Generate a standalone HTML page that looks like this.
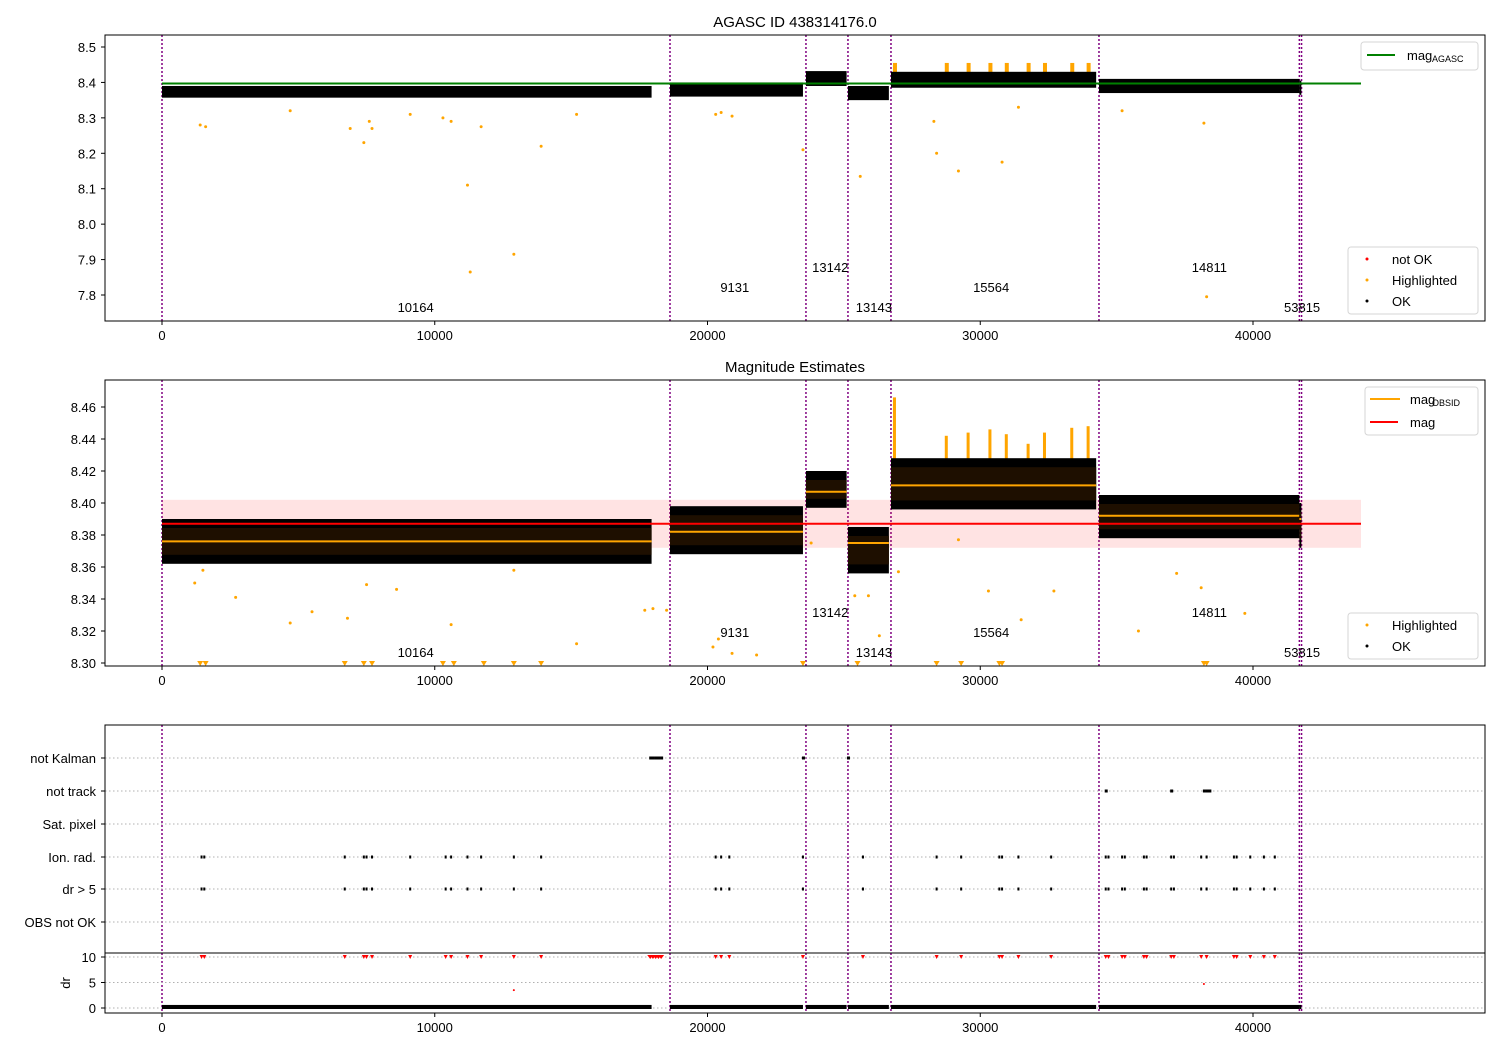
<!DOCTYPE html>
<html><head><meta charset="utf-8"><style>
body{margin:0;background:#fff;}
svg{display:block;font-family:"Liberation Sans","DejaVu Sans",sans-serif;}
</style></head><body>
<svg id="c" width="1500" height="1050" xmlns="http://www.w3.org/2000/svg"></svg>
<script>
// ---- data ----
const obsStarts = [0, 18625, 23610, 25150, 26727, 34353, 41700];
const obsEnds   = [17950, 23500, 25100, 26650, 34250, 41700, 41760];
const obsIds    = ["10164","9131","13142","13143","15564","14811","53815"];
const obsLabelT = [9300, 21000, 24500, 26100, 30400, 38400, 41800];
const vlines    = [0, 18625, 23610, 25150, 26727, 34353, 41700, 41780];
// panel 1 band (OK points) low/high
const p1Low  = [8.357, 8.36, 8.39, 8.35, 8.385, 8.37, 8.365];
const p1High = [8.39, 8.40, 8.432, 8.39, 8.43, 8.41, 8.405];
const agascMag = 8.397;
// panel 1 highlighted outliers
const p1HT = [1400,1600,4700,6900,7400,7600,7700,9100,10300,10600,11200,11300,11700,12900,13900,15200,20300,20500,20900,23500,25600,28300,28400,29200,30800,31400,35200,38200,38300];
const p1HV = [8.28,8.275,8.32,8.27,8.23,8.29,8.27,8.31,8.3,8.29,8.11,7.865,8.275,7.915,8.22,8.31,8.31,8.315,8.305,8.21,8.135,8.29,8.2,8.15,8.175,8.33,8.32,8.285,7.795];
// panel 2 bands
const p2Low  = [8.362, 8.368, 8.397, 8.356, 8.396, 8.378, 8.372];
const p2High = [8.390, 8.398, 8.420, 8.385, 8.428, 8.405, 8.40];
const obsMean= [8.376, 8.382, 8.407, 8.375, 8.411, 8.392, 8.39];
const magMean = 8.387, magStd = 0.015;
const p2HT = [1200,1500,2700,4700,5500,6800,7500,8600,10600,12900,15200,17700,18000,18500,20200,20400,20900,21800,23800,25400,25900,26300,27000,29200,30300,31500,32700,35800,37200,38100,39700];
const p2HV = [8.350,8.358,8.341,8.325,8.332,8.328,8.349,8.346,8.324,8.358,8.312,8.333,8.334,8.333,8.310,8.315,8.306,8.305,8.375,8.342,8.342,8.317,8.357,8.377,8.345,8.327,8.345,8.320,8.356,8.347,8.331];
const p2ClipT = [1400,1600,6700,7400,7700,10300,10700,11800,12900,13900,23500,25500,28400,29300,30700,30800,38200,38300];
const p2StripT = [26800,28700,29500,30300,30900,31700,32300,33300,33900];
const p2StripH = [8.466,8.442,8.444,8.446,8.443,8.437,8.444,8.447,8.448];
// flags
const ionT = [1450,1550,6700,7400,7500,7700,9100,10400,10600,11200,11700,12900,13900,20300,20500,20800,23500,25700,28400,29300,30700,30800,31400,32600,34600,34700,35200,35300,36000,36100,37000,37100,38100,38300,39300,39400,39900,40400,40800];
const kalmanT = [17900,18000,18100,18200,18300,23500,25150];
const trackT = [34600,37000,38200,38300,38400];
const drOutT = [12900,38200];
const drOutV = [3.5,4.7];
const xTicks = [0,10000,20000,30000,40000];
const p1Ticks = [8.5,8.4,8.3,8.2,8.1,8.0,7.9,7.8];
const p2Ticks = [8.46,8.44,8.42,8.40,8.38,8.36,8.34,8.32,8.30];
const cats = ["not Kalman","not track","Sat. pixel","Ion. rad.","dr > 5","OBS not OK"];
const drTicks = [10,5,0];

// ---- scales ----
const X = t => 162 + t*0.027275;
const Y1 = v => 47 + (8.5-v)*354.3;
const Y2 = v => 407 + (8.46-v)*1600;
const catY = [758,791,824,857,889,922];
const YD = v => 1008 - v*5.1;

const svg = document.getElementById('c');
const NS='http://www.w3.org/2000/svg';
function el(tag, attrs, name, parent){
  const e=document.createElementNS(NS,tag);
  for(const k in attrs) e.setAttribute(k,attrs[k]);
  
  
  (parent||svg).appendChild(e); return e;
}
function txt(x,y,s,name,opt){
  opt=opt||{};
  const t=el('text',{x:x,y:y,'font-size':opt.fs||13,'text-anchor':opt.a||'start',fill:opt.fill||'#000'},name);
  t.textContent=s; return t;
}
const panels=[[35,321],[380,666],[725,1013]];
panels.forEach((p,i)=>{
  vlines.forEach(t=>el('line',{x1:X(t),x2:X(t),y1:p[0],y2:p[1],stroke:'#800080','stroke-width':1.5,'stroke-dasharray':'2,2'},'obs-divider'));
  xTicks.forEach(t=>{
    el('line',{x1:X(t),x2:X(t),y1:p[1],y2:p[1]+4,stroke:'#000'},'x-tick');
    txt(X(t),p[1]+19,String(t),'x-tick-label',{a:'middle',fs:13});
  });
});
txt(795,27,'AGASC ID 438314176.0','title-panel1',{a:'middle',fs:15});
txt(795,372,'Magnitude Estimates','title-panel2',{a:'middle',fs:15});
p1Ticks.forEach(v=>{el('line',{x1:101,x2:105,y1:Y1(v),y2:Y1(v),stroke:'#000'},'y-tick');txt(96,Y1(v)+5,v.toFixed(1),'y-tick-label',{a:'end'});});
p2Ticks.forEach(v=>{el('line',{x1:101,x2:105,y1:Y2(v),y2:Y2(v),stroke:'#000'},'y-tick');txt(96,Y2(v)+5,v.toFixed(2),'y-tick-label',{a:'end'});});
cats.forEach((c,i)=>{el('line',{x1:105,x2:1485,y1:catY[i],y2:catY[i],stroke:'#b0b0b0','stroke-dasharray':'1.5,2.5'},'category-grid');
  el('line',{x1:101,x2:105,y1:catY[i],y2:catY[i],stroke:'#000'},'y-tick');txt(96,catY[i]+5,c,'category-label',{a:'end'});});
drTicks.forEach(v=>{el('line',{x1:105,x2:1485,y1:YD(v),y2:YD(v),stroke:'#b0b0b0','stroke-dasharray':'1.5,2.5'},'dr-grid');
  el('line',{x1:101,x2:105,y1:YD(v),y2:YD(v),stroke:'#000'},'y-tick');txt(96,YD(v)+5,String(v),'dr-tick-label',{a:'end'});});
const dl=txt(70,983,'dr','dr-axis-title',{a:'middle'});dl.setAttribute('transform','rotate(-90 70 983)');

// panel1
p2StripT.forEach(t=>el('rect',{x:X(t),y:Y1(8.455),width:4,height:Y1(8.42)-Y1(8.455),fill:'orange'},'highlight-strip-p1'));
obsStarts.forEach((s,i)=>{
  el('rect',{x:X(s),y:Y1(p1High[i]),width:Math.max(2,X(obsEnds[i])-X(s)),height:Y1(p1Low[i])-Y1(p1High[i]),fill:'#000'},'ok-band-p1');
});
el('line',{x1:X(0),x2:1361,y1:Y1(agascMag),y2:Y1(agascMag),stroke:'green','stroke-width':2},'mag-agasc-line');
p1HT.forEach((t,i)=>el('circle',{cx:X(t),cy:Y1(p1HV[i]),r:1.5,fill:'orange'},'highlighted-point'));
// panel2
el('rect',{x:X(0),y:Y2(magMean+magStd),width:1361-X(0),height:Y2(magMean-magStd)-Y2(magMean+magStd),fill:'#ff0000',opacity:0.11},'mag-std-band');
p2StripT.forEach((t,i)=>el('rect',{x:X(t),y:Y2(p2StripH[i]),width:3,height:Y2(8.42)-Y2(p2StripH[i]),fill:'orange'},'highlight-strip-p2'));
obsStarts.forEach((s,i)=>{
  el('rect',{x:X(s),y:Y2(p2High[i]),width:Math.max(2,X(obsEnds[i])-X(s)),height:Y2(p2Low[i])-Y2(p2High[i]),fill:'#000'},'ok-band-p2');
  el('rect',{x:X(s),y:Y2(p2High[i])+9,width:Math.max(2,X(obsEnds[i])-X(s)),height:Math.max(0,Y2(p2Low[i])-Y2(p2High[i])-18),fill:'#1e0f00'},'ok-band-core');
  el('line',{x1:X(s),x2:X(obsEnds[i]),y1:Y2(obsMean[i]),y2:Y2(obsMean[i]),stroke:'orange','stroke-width':2},'mag-obsid-line');
});
el('line',{x1:X(0),x2:1361,y1:Y2(magMean),y2:Y2(magMean),stroke:'red','stroke-width':2},'mag-line');
p2HT.forEach((t,i)=>el('circle',{cx:X(t),cy:Y2(p2HV[i]),r:1.5,fill:'orange'},'highlighted-point'));
p2ClipT.forEach(t=>el('path',{d:`M${X(t)-3},${Y2(8.30)-2} L${X(t)+3},${Y2(8.30)-2} L${X(t)},${Y2(8.30)+3}Z`,fill:'orange'},'clipped-marker'));
// panel3
el('line',{x1:105,x2:1485,y1:953,y2:953,stroke:'#000'},'dr-separator');
kalmanT.forEach(t=>el('rect',{x:X(t)-1,y:catY[0]-1.5,width:3,height:3,fill:'#000'},'flag-not-kalman'));
trackT.forEach(t=>el('rect',{x:X(t)-1,y:catY[1]-1.5,width:3,height:3,fill:'#000'},'flag-not-track'));
ionT.forEach(t=>{
  el('rect',{x:X(t)-1,y:catY[3]-1.5,width:2,height:3,fill:'#000'},'flag-ion-rad');
  el('rect',{x:X(t)-1,y:catY[4]-1.5,width:2,height:3,fill:'#000'},'flag-dr-gt-5');
  el('path',{d:`M${X(t)-2},${YD(10)-2} L${X(t)+2},${YD(10)-2} L${X(t)},${YD(10)+2}Z`,fill:'red'},'dr-clipped');
});
kalmanT.slice(0,5).forEach(t=>el('path',{d:`M${X(t)-3},${YD(10)-2} L${X(t)+3},${YD(10)-2} L${X(t)},${YD(10)+2}Z`,fill:'red'},'dr-clipped'));
drOutT.forEach((t,i)=>el('circle',{cx:X(t),cy:YD(drOutV[i]),r:1,fill:'red'},'dr-outlier'));
obsStarts.forEach((s,i)=>el('rect',{x:X(s),y:YD(0.6),width:Math.max(2,X(obsEnds[i])-X(s)),height:YD(0)-YD(0.6)+1,fill:'#000'},'dr-band'));
obsIds.forEach((id,i)=>{
  const off=[40,20,0,40,20,0,40][i];
  txt(X(obsLabelT[i]),267+off+5,id,'obsid-label',{a:'middle'});
  txt(X(obsLabelT[i]),612+off+5,id,'obsid-label',{a:'middle'});
});
panels.forEach(p=>el('rect',{x:105,y:p[0],width:1380,height:p[1]-p[0],fill:'none',stroke:'#000'},'axes-frame'));
function legbox(x,y,w,h,n){el('rect',{x:x,y:y,width:w,height:h,rx:3,fill:'#fff',opacity:0.8,stroke:'#ccc'},n);}
legbox(1361,42,117,28,'legend-agasc');
el('line',{x1:1367,x2:1395,y1:55,y2:55,stroke:'green','stroke-width':2},'legend-swatch');
txt(1407,60,'mag','legend-entry');txt(1432,62,'AGASC','legend-sub',{fs:9});
legbox(1348,247,130,67,'legend-status');
[['red','not OK',259],['orange','Highlighted',280],['#000','OK',301]].forEach(r=>{
  el('circle',{cx:1367,cy:r[2],r:1.5,fill:r[0]},'legend-marker');txt(1392,r[2]+5,r[1],'legend-entry');});
legbox(1365,387,113,48,'legend-mag');
el('line',{x1:1370,x2:1400,y1:399,y2:399,stroke:'orange','stroke-width':2},'legend-swatch');
txt(1410,404,'mag','legend-entry');txt(1432,406,'OBSID','legend-sub',{fs:9});
el('line',{x1:1370,x2:1398,y1:422,y2:422,stroke:'red','stroke-width':2},'legend-swatch');
txt(1410,427,'mag','legend-entry');
legbox(1348,613,130,46,'legend-status-p2');
[['orange','Highlighted',625],['#000','OK',646]].forEach(r=>{
  el('circle',{cx:1367,cy:r[2],r:1.5,fill:r[0]},'legend-marker');txt(1392,r[2]+5,r[1],'legend-entry');});
</script>
</body></html>
